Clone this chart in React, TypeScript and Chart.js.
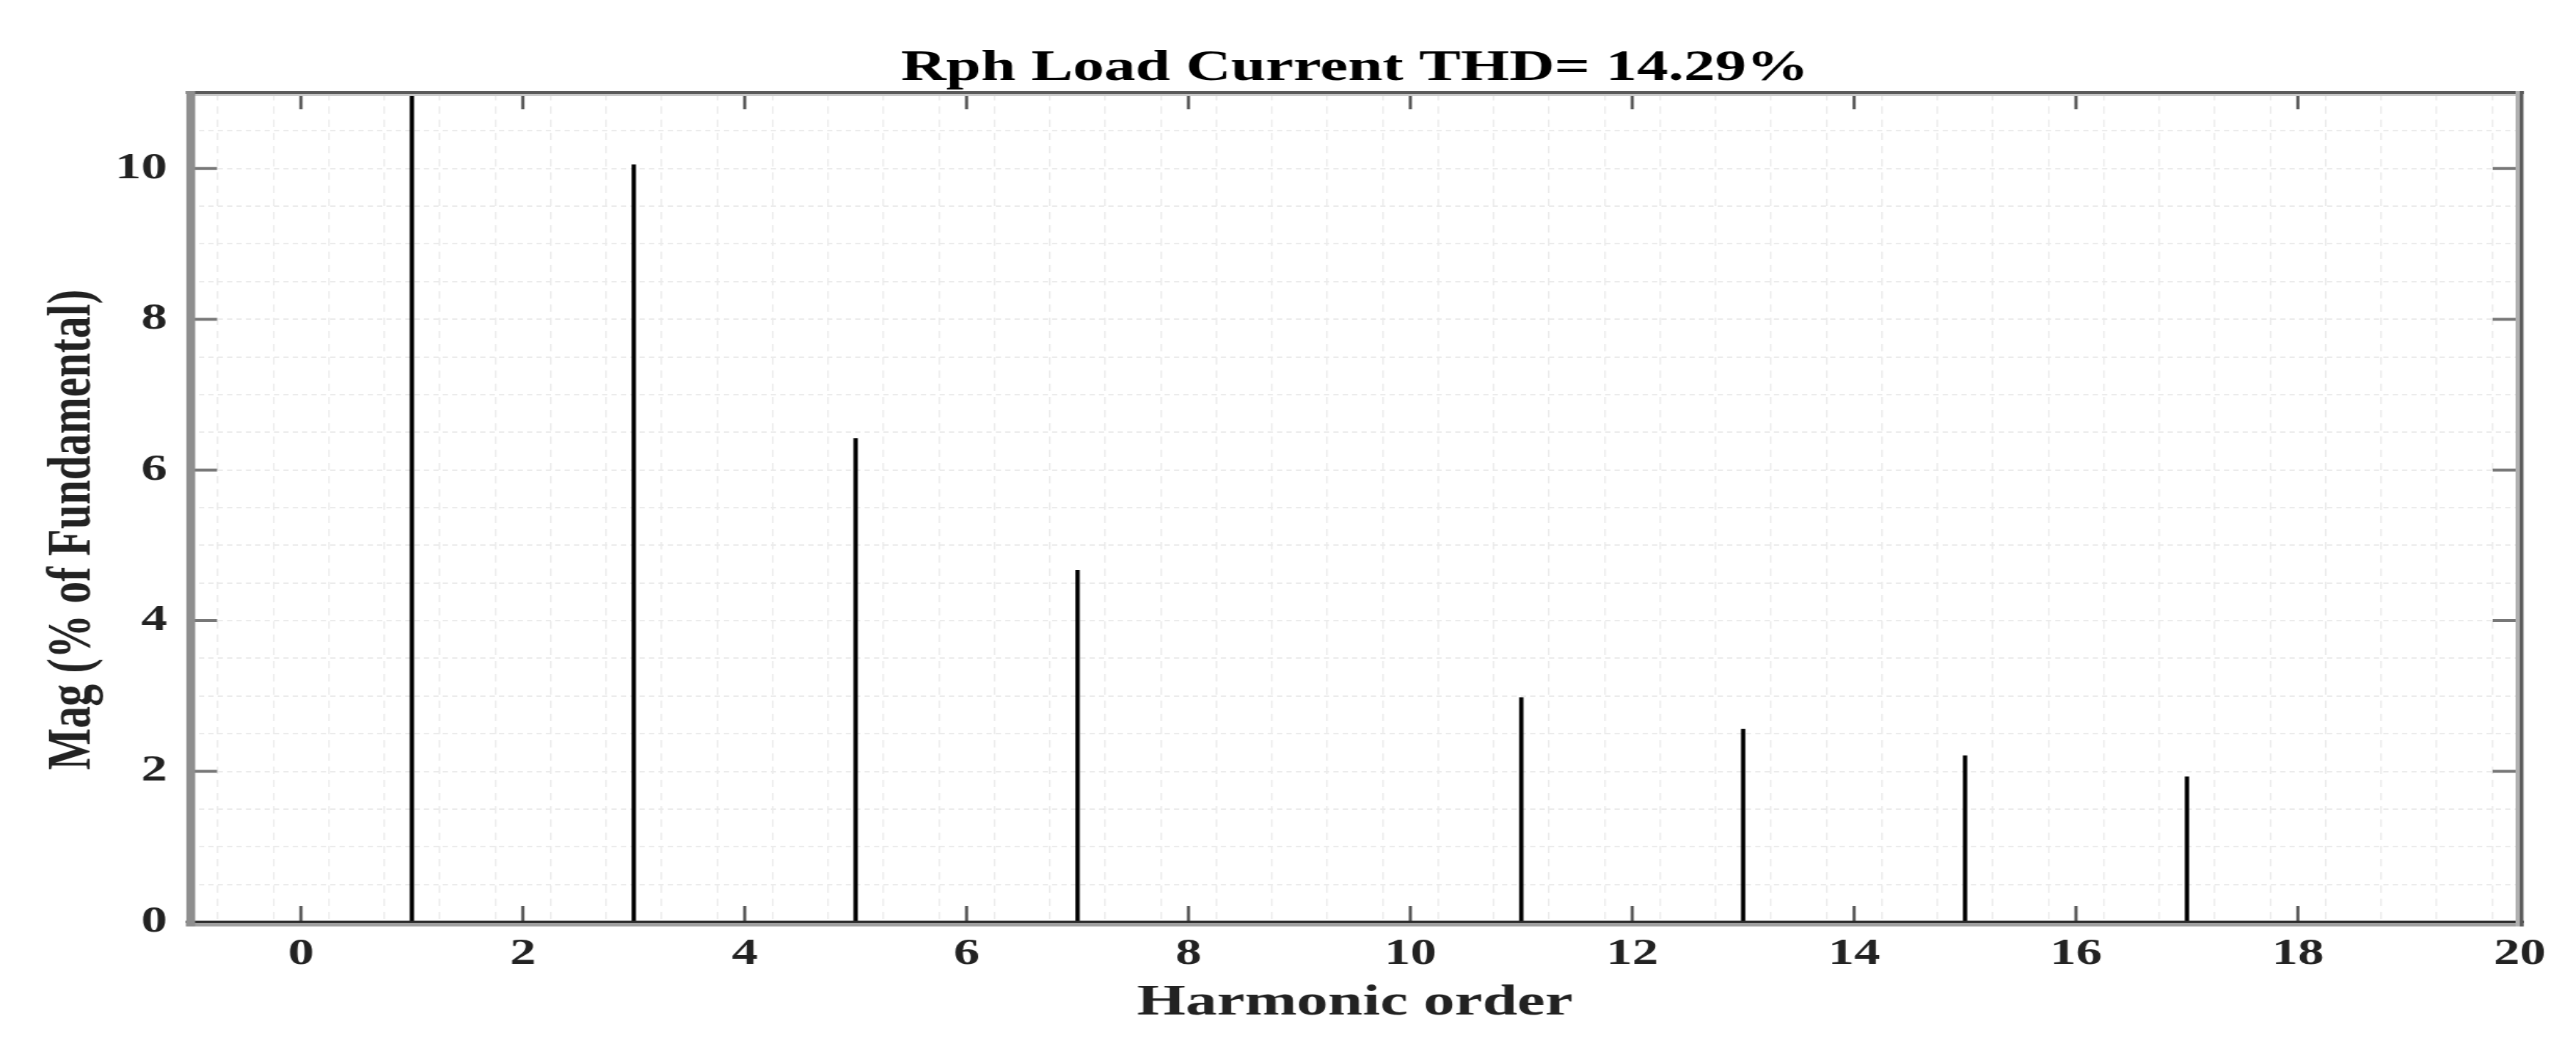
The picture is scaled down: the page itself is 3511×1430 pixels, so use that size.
import React, { useEffect, useRef } from 'react';
import { Chart, registerables } from 'chart.js';

Chart.register(...registerables);

// ---- data ----
const harmonicOrders = [1, 3, 5, 7, 11, 13, 15, 17];
const magnitudes = [100, 10.05, 6.42, 4.67, 2.98, 2.56, 2.21, 1.93];
const xMajorTicks = [0, 2, 4, 6, 8, 10, 12, 14, 16, 18, 20];
const yMajorTicks = [0, 2, 4, 6, 8, 10];
const titleText = 'Rph Load Current THD= 14.29%';
const xTitle = 'Harmonic order';
const yTitle = 'Mag (% of Fundamental)    ';

const X_MIN = -1;
const X_MAX = 20;
const Y_MIN = 0;
const Y_MAX = 11;

// drawing surface (the figure is horizontally stretched like the reference)
const CANVAS_W = 2473;
const CANVAS_H = 1430;
const DISPLAY_W = 3511;

const FONT = 'Liberation Serif';

const framePlugin = {
  id: 'frameTicks',
  afterDatasetsDraw(chart: any) {
    const { ctx, chartArea: a, scales } = chart;
    const xs = scales.x;
    const ys = scales.y;
    ctx.save();
    // inward major tick marks
    ctx.strokeStyle = '#555';
    ctx.lineWidth = 3;
    for (const v of xMajorTicks) {
      const px = xs.getPixelForValue(v);
      ctx.beginPath();
      ctx.moveTo(px, a.bottom);
      ctx.lineTo(px, a.bottom - 22);
      ctx.moveTo(px, a.top);
      ctx.lineTo(px, a.top + 22);
      ctx.stroke();
    }
    ctx.strokeStyle = '#777';
    ctx.lineWidth = 4;
    for (const v of yMajorTicks) {
      const py = ys.getPixelForValue(v);
      ctx.beginPath();
      ctx.moveTo(a.left, py);
      ctx.lineTo(a.left + 26, py);
      ctx.moveTo(a.right, py);
      ctx.lineTo(a.right - 26, py);
      ctx.stroke();
    }
    // frame
    ctx.fillStyle = '#5a5a5a';
    ctx.fillRect(a.left - 4, a.top - 3, a.right - a.left + 8, 4);
    ctx.fillStyle = '#c8c8c8';
    ctx.fillRect(a.left, a.top + 1, a.right - a.left, 3);
    ctx.fillStyle = '#2a2a2a';
    ctx.fillRect(a.left - 4, a.bottom - 2, a.right - a.left + 8, 3);
    ctx.fillStyle = '#a0a0a0';
    ctx.fillRect(a.left - 4, a.bottom + 1, a.right - a.left + 8, 5);
    ctx.fillStyle = '#8e8e8e';
    ctx.fillRect(a.left - 3.5, a.top - 3, 8.5, a.bottom - a.top + 9);
    ctx.fillStyle = '#b0b0b0';
    ctx.fillRect(a.right - 4, a.top - 3, 4, a.bottom - a.top + 9);
    ctx.fillStyle = '#5a5a5a';
    ctx.fillRect(a.right, a.top - 3, 3.5, a.bottom - a.top + 9);
    ctx.restore();
  },
};

export default function App() {
  const ref = useRef<HTMLCanvasElement>(null);

  useEffect(() => {
    const canvas = ref.current;
    if (!canvas) return;
    const chart = new Chart(canvas, {
      type: 'bar',
      data: {
        datasets: [
          {
            data: harmonicOrders.map((h, i) => ({ x: h, y: magnitudes[i] })),
            backgroundColor: '#000',
            borderWidth: 0,
            barThickness: 3.5,
            grouped: false,
          } as any,
        ],
      },
      options: {
        responsive: false,
        animation: false,
        devicePixelRatio: 1,
        layout: { padding: { left: 0, right: 54, top: 0, bottom: 0 } },
        plugins: {
          legend: { display: false },
          tooltip: { enabled: false },
          title: {
            display: true,
            text: titleText,
            fullSize: false,
            color: '#000',
            font: { family: FONT, size: 60, weight: 'bold', lineHeight: 1 },
            padding: { top: 63, bottom: 4 },
          },
        },
        scales: {
          x: {
            type: 'linear',
            min: X_MIN,
            max: X_MAX,
            offset: false,
            afterFit: (s: any) => {
              s.height = 173;
            },
            ticks: {
              stepSize: 0.5,
              autoSkip: false,
              maxRotation: 0,
              minRotation: 0,
              padding: 14,
              color: '#222',
              font: { family: FONT, size: 50, weight: 'bold' },
              callback: (v: any) => (Number(v) % 2 === 0 ? String(v) : ''),
            },
            grid: {
              color: '#ebebeb',
              lineWidth: 1.5,
              drawTicks: false,
            },
            border: { display: false, dash: [10, 8] },
            title: {
              display: true,
              text: xTitle,
              color: '#222',
              font: { family: FONT, size: 60, weight: 'bold' },
              padding: { top: 0, bottom: 27 },
            },
          },
          y: {
            type: 'linear',
            min: Y_MIN,
            max: Y_MAX,
            afterFit: (s: any) => {
              s.width = 182.4;
            },
            ticks: {
              stepSize: 0.5,
              autoSkip: false,
              includeBounds: false,
              padding: 22,
              color: '#222',
              font: { family: FONT, size: 50, weight: 'bold' },
              callback: (v: any) => (Number(v) % 2 === 0 ? String(v) : ''),
            },
            grid: {
              color: '#ebebeb',
              lineWidth: 2,
              drawTicks: false,
            },
            border: { display: false, dash: [5, 4] },
            title: {
              display: true,
              text: yTitle,
              color: '#222',
              font: { family: FONT, size: 60, weight: 'bold' },
              padding: { top: 34, bottom: 0 },
            },
          },
        },
      } as any,
      plugins: [framePlugin],
    });
    return () => chart.destroy();
  }, []);

  return (
    <div
      style={{
        position: 'absolute',
        left: 0,
        top: 0,
        width: DISPLAY_W,
        height: CANVAS_H,
        background: '#fff',
      }}
    >
      <canvas
        ref={ref}
        width={CANVAS_W}
        height={CANVAS_H}
        style={{ width: DISPLAY_W + 'px', height: CANVAS_H + 'px', display: 'block' }}
      />
    </div>
  );
}
